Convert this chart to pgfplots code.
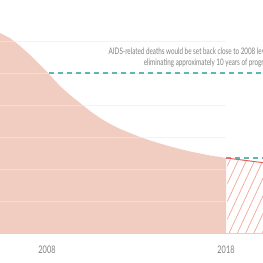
\documentclass[border=0pt]{standalone}
\usepackage{pgfplots}
\pgfplotsset{compat=1.18}
\usetikzlibrary{patterns.meta,calc}
\usepackage{fontspec}
\setmainfont{Lato}[FakeStretch=0.7]
\definecolor{areafill}{HTML}{F0CCC1}
\definecolor{teal}{HTML}{5DB8B2}
\definecolor{redl}{HTML}{E8605F}
\definecolor{hatch}{HTML}{F2A597}
\definecolor{gridc}{HTML}{EBEBEB}
\definecolor{txt}{HTML}{808080}
\begin{document}
\begin{tikzpicture}
\begin{axis}[
  name=ax,
  scale only axis,
  width=263pt, height=233pt,
  xmin=2005.374, xmax=2020.067,
  ymin=0, ymax=1820,
  axis lines=none,
  ytick={250,500,750,1000,1250,1500,1750},
  ymajorgrids,
  grid style={gridc, line width=0.6pt},
  yticklabels={},
  xtick=\empty,
  clip=true,
]
\addplot[fill=areafill, draw=none] coordinates {
(2005.0,1586) (2005.374,1562) (2005.933,1523) (2006.492,1461) (2007.050,1391)
(2007.609,1313) (2008.056,1250) (2008.726,1148) (2009.285,1078) (2009.844,1016)
(2010.402,953) (2010.961,898) (2011.520,852) (2012.078,813) (2012.637,781)
(2013.196,750) (2013.754,723) (2014.313,699) (2014.872,676) (2015.430,656)
(2015.989,637) (2016.548,621) (2017.106,605) (2017.665,594) (2018,586)
(2018,0) (2005.0,0)} -- cycle;
% grid lines over the fill
\addplot[gridc, line width=0.6pt, opacity=0.6, forget plot] coordinates {(2005,250) (2018,250)};
\addplot[gridc, line width=0.6pt, opacity=0.6, forget plot] coordinates {(2005,500) (2018,500)};
\addplot[gridc, line width=0.6pt, opacity=0.6, forget plot] coordinates {(2005,750) (2018,750)};
\addplot[gridc, line width=0.6pt, opacity=0.6, forget plot] coordinates {(2005,1000) (2018,1000)};
\addplot[gridc, line width=0.6pt, opacity=0.6, forget plot] coordinates {(2005,1250) (2018,1250)};
\addplot[gridc, line width=0.6pt, opacity=0.6, forget plot] coordinates {(2005,1500) (2018,1500)};
% hatched projection
\addplot[draw=none, pattern={Lines[angle=65,distance=7.5pt,line width=0.7pt]}, pattern color=hatch] coordinates {
(2018.08,0) (2018.08,586) (2020.1,549) (2020.1,0)} -- cycle;
% baseline
\addplot[gridc!80!gray, line width=0.8pt] coordinates {(2005,0) (2021,0)};
% dashed reference lines
\addplot[teal, line width=1.1pt, dash pattern=on 5pt off 4pt] coordinates {(2008.1,1250) (2020.1,1250)};
\addplot[teal, line width=1.1pt, dash pattern=on 5pt off 4pt] coordinates {(2018,586) (2020.1,586)};
% projected line
\addplot[redl, line width=1pt] coordinates {(2018,586) (2020.1,549)};
\node[anchor=base east, align=right, text=txt, font=\fontsize{9}{11}\selectfont, fill=white, inner sep=1pt] at (axis cs:2020.74,1305)
  {AIDS-related deaths would be set back close to 2008 levels,\\eliminating approximately 10 years of progress.};
\end{axis}
\node[text=txt, font=\fontsize{10.5}{12}\selectfont, anchor=base] at ($(ax.south west)+(47pt,-20.5pt)$) {2008};
\node[text=txt, font=\fontsize{10.5}{12}\selectfont, anchor=base] at ($(ax.south west)+(226pt,-20.5pt)$) {2018};
\pgfresetboundingbox
\useasboundingbox ($(ax.south west)+(0,-30pt)$) rectangle (ax.north east);
\end{tikzpicture}
\end{document}
